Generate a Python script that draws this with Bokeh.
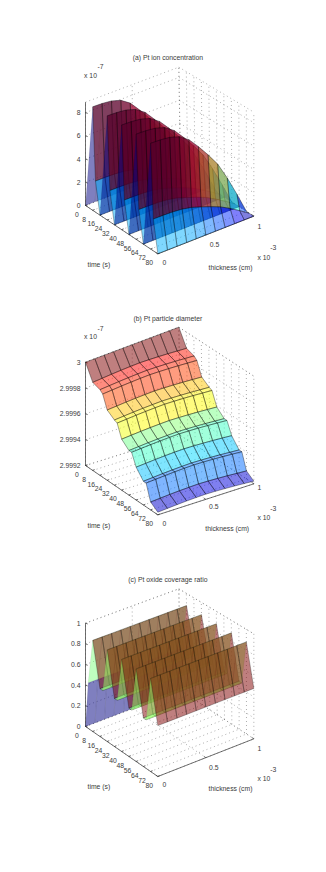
from bokeh.plotting import figure
from bokeh.models import Range1d
from bokeh.core.properties import value
from bokeh.embed import file_html
from bokeh.resources import INLINE

# ---------- data ----------
time_ticks = [0, 8, 16, 24, 32, 40, 48, 56, 64, 72, 80]
thick_ticks = [0, 0.5, 1]
thick_grid = [0, .1, .2, .3, .4, .5, .6, .7, .8, .9, 1]

# (a) Pt ion concentration, units of 1e-7
a_times = [0, 8, 11, 16, 24, 27, 32, 40, 43, 48, 56, 59, 64, 72, 75, 80]
a_rows = [0, 1, .3, 0, 1, .3, 0, 1, .3, 0, 1, .3, 0, 1, .3, 0]
a_profile = [8.9, 8.88, 8.8, 8.55, 8.0, 7.1, 6.1, 5.0, 3.5, 1.8, 0]
a_zticks = [0, 2, 4, 6, 8]
a_zlabels = ["0", "2", "4", "6", "8"]

# (b) Pt particle diameter, units of 1e-7
b_times = [0, 8, 16, 19, 24, 32, 35, 40, 48, 51, 56, 64, 67, 72, 80]
b_rows = [3.0, 2.99988, 2.99986, 2.99984, 2.99974, 2.9997, 2.99969, 2.99959,
          2.99954, 2.99954, 2.99945, 2.99938, 2.99938, 2.99926, 2.99922]
b_bump = [0, .000005, .00001, .000014, .000017, .000019, .000017, .000014, .00001, .000005, 0]
b_zticks = [2.9992, 2.9994, 2.9996, 2.9998, 3.0]
b_zlabels = ["2.9992", "2.9994", "2.9996", "2.9998", "3"]

# (c) Pt oxide coverage ratio
c_times = [0, 3, 8, 16, 19, 24, 32, 35, 40, 48, 51, 56, 64, 67, 72, 80]
c_rows = [0, .44, .88, .46, .46, .88, .46, .46, .88, .46, .46, .88, .46, .46, .88, .48]
c_zticks = [0, .2, .4, .6, .8, 1]
c_zlabels = ["0", "0.2", "0.4", "0.6", "0.8", "1"]

titles = ["(a) Pt ion concentration", "(b) Pt particle diameter", "(c) Pt oxide coverage ratio"]

# ---------- layout of each 3D box: zoom-crop origin and its eight corners ----------
FONT = value("Liberation Sans")
TXT = "#3a3a3a"
panels = [
    dict(org=(50, 40), zlim=(0, 8.9), c000=(105, 495), c100=(322, 640), c110=(610, 527), c010=(390, 385),
         c001=(105, 185), c101=(322, 322), c111=(610, 215), c011=(385, 80),
         title=(352, 50), timel=(145, 673), thl=(540, 680), x10b=(640, 650), m3=(668, 622), x10t=(120, 105), m7=(150, 78),
         tick0=(-26, 26), th=[(342, 665), (492, 613), (627, 558)], exp="-7", lx=90),
    dict(org=(50, 305), zlim=(2.9992, 3.0), c000=(105, 480), c100=(322, 628), c110=(610, 535), c010=(390, 390),
         c001=(105, 170), c101=(322, 310), c111=(610, 212), c011=(385, 65),
         title=(352, 38), timel=(145, 660), thl=(530, 668), x10b=(640, 637), m3=(668, 610), x10t=(120, 92), m7=(150, 68),
         tick0=(-26, 26), th=[(342, 655), (490, 602), (627, 547)], exp="-7", lx=90),
    dict(org=(50, 570), zlim=(0, 1), c000=(105, 468), c100=(322, 618), c110=(610, 505), c010=(390, 360),
         c001=(105, 158), c101=(322, 300), c111=(610, 190), c011=(385, 55),
         title=(352, 28), timel=(145, 648), thl=(540, 655), x10b=(640, 625), m3=(668, 598), x10t=None, m7=None,
         tick0=(-26, 26), th=[(342, 643), (490, 590), (627, 533)], exp=None, lx=90),
]


def jet(x):
    x = max(0.0, min(1.0, x))
    r = min(1.0, max(0.0, min(4 * x - 1.5, -4 * x + 4.5)))
    g = min(1.0, max(0.0, min(4 * x - 0.5, -4 * x + 3.5)))
    b = min(1.0, max(0.0, min(4 * x + 0.5, -4 * x + 2.5)))
    return "#%02x%02x%02x" % (int(r * 255), int(g * 255), int(b * 255))


def projector(P):
    ox, oy = P["org"]
    z0, z1 = P["zlim"]

    def proj(t, th, z):
        u, v, w = t / 80.0, th, (z - z0) / (z1 - z0)
        x = y = 0.0
        for a, ua in ((0, 1 - u), (1, u)):
            for b, vb in ((0, 1 - v), (1, v)):
                for c, wc in ((0, 1 - w), (1, w)):
                    cx, cy = P["c%d%d%d" % (a, b, c)]
                    x += ua * vb * wc * cx
                    y += ua * vb * wc * cy
        return ox + x / 3.0, oy + y / 3.0
    return proj


p = figure(width=310, height=856, x_range=Range1d(0, 310), y_range=Range1d(856, 0),
           x_axis_type=None, y_axis_type=None, toolbar_location=None, output_backend="svg",
           min_border=0, outline_line_color=None)
p.grid.visible = False


def label(x, y, s, size="6.8px", align="center", base="middle"):
    p.text([x], [y], text=[s], text_font=FONT, text_font_size=size, text_align=align,
           text_baseline=base, text_color=TXT)


def box(P, zticks, zlabels):
    proj = projector(P)
    ox, oy = P["org"]
    z0, z1 = P["zlim"]
    xs, ys = [], []

    def seg(a, b):
        pa, pb = proj(*a), proj(*b)
        xs.append([pa[0], pb[0]])
        ys.append([pa[1], pb[1]])
    for t in time_ticks:
        seg((t, 0, z0), (t, 1, z0))
        seg((t, 1, z0), (t, 1, z1))
    for th in thick_ticks:
        seg((0, th, z0), (80, th, z0))
        seg((0, th, z0), (0, th, z1))
    for z in zticks:
        seg((0, 0, z), (0, 1, z))
        seg((0, 1, z), (80, 1, z))
    seg((0, 0, z1), (0, 1, z1))
    seg((0, 1, z1), (80, 1, z1))
    p.multi_line(xs, ys, line_color="#555555", line_width=0.6, line_dash="1 3", line_alpha=0.8)

    xs, ys = [], []
    seg((0, 0, z0), (0, 0, z1))
    seg((0, 0, z0), (80, 0, z0))
    seg((80, 0, z0), (80, 1, z0))
    for z in zticks:
        a = proj(0, 0, z)
        xs.append([a[0], a[0] + 2.2])
        ys.append([a[1], a[1] + 0.8])
    for t in time_ticks:
        a = proj(t, 0, z0)
        xs.append([a[0], a[0] + 2.0])
        ys.append([a[1], a[1] - 0.8])
    for th in thick_ticks:
        a = proj(80, th, z0)
        xs.append([a[0], a[0] - 1.8])
        ys.append([a[1], a[1] - 1.2])
    p.multi_line(xs, ys, line_color="#333333", line_width=0.7)

    for z, s in zip(zticks, zlabels):
        a = proj(0, 0, z)
        label(ox + P["lx"] / 3.0, a[1], s, align="right")
    dx, dy = P["tick0"]
    for t in time_ticks:
        a = proj(t, 0, z0)
        label(a[0] + dx / 3.0, a[1] + dy / 3.0, str(t))
    for th, s, pos in zip(thick_ticks, ["0", "0.5", "1"], P["th"]):
        label(ox + pos[0] / 3.0, oy + pos[1] / 3.0, s)


def surface(P, times, Z, C, edge=0.6, rising_edge=0.6):
    proj = projector(P)
    xs, ys, cols, alphas = [], [], [], []
    for i in range(len(times) - 1):
        rising = Z[i + 1][0] > Z[i][0]
        for j in range(len(thick_grid) - 2, -1, -1):
            quad = [(i, j), (i + 1, j), (i + 1, j + 1), (i, j + 1)]
            pts = [proj(times[a], thick_grid[b], Z[a][b]) for a, b in quad]
            xs.append([q[0] for q in pts])
            ys.append([q[1] for q in pts])
            cols.append(jet(C[i][j]))
            alphas.append(rising_edge if rising else edge)
    p.patches(xs, ys, fill_color=cols, fill_alpha=0.5, line_color="#000000", line_alpha=alphas, line_width=0.6)


def texts(P, title):
    ox, oy = P["org"]
    t = lambda q: (ox + q[0] / 3.0, oy + q[1] / 3.0)
    label(*t(P["title"]), title)
    label(*t(P["timel"]), "time (s)")
    label(*t(P["thl"]), "thickness (cm)")
    label(*t(P["x10b"]), "x 10")
    label(*t(P["m3"]), "-3")
    if P["x10t"]:
        label(*t(P["x10t"]), "x 10")
        label(*t(P["m7"]), P["exp"])


Pa, Pb, Pc = panels
Za = [[r * v for v in a_profile] for r in a_rows]
Ca = [[v / max(a_profile) for v in row] for row in Za]
box(Pa, a_zticks, a_zlabels)
surface(Pa, a_times, Za, Ca, edge=0.5, rising_edge=0.12)
texts(Pa, titles[0])

Zb = [[min(3.0, r + d) for d in b_bump] for r in b_rows]
Cb = [[(v - 2.9992) / 0.0008 for v in row] for row in Zb]
box(Pb, b_zticks, b_zlabels)
surface(Pb, b_times, Zb, Cb, edge=0.6, rising_edge=0.6)
texts(Pb, titles[1])

Zc = [[r for _ in thick_grid] for r in c_rows]
Cc = [[v / max(c_rows) for v in row] for row in Zc]
box(Pc, c_zticks, c_zlabels)
surface(Pc, c_times, Zc, Cc, edge=0.45, rising_edge=0.1)
texts(Pc, titles[2])

open("out.html", "w").write(file_html(p, INLINE))
